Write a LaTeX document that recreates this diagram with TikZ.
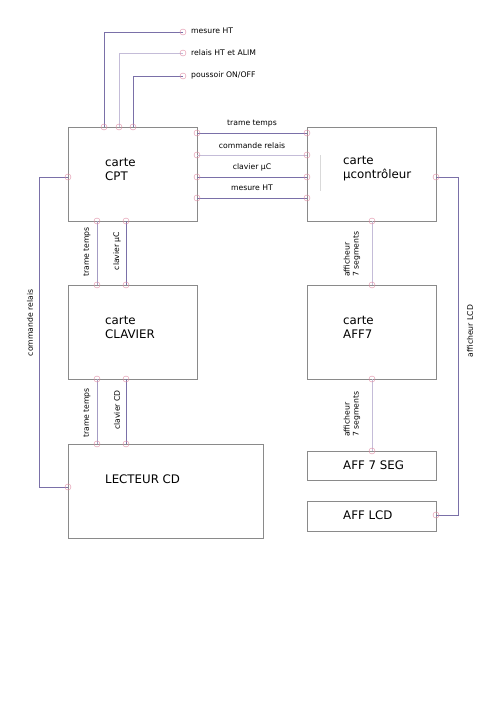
\documentclass[tikz,border=0pt]{standalone}
\usepackage{fontspec}
\setmainfont{DejaVu Sans}
\begin{document}
\begin{tikzpicture}[x=1pt,y=-1pt,
  box/.style={draw=boxgray,line width=0.6pt,anchor=north west,inner sep=0pt},
  big/.style={font=\fontsize{11.8}{14}\selectfont,align=left,inner sep=0pt},
  small/.style={font=\fontsize{7.7}{9}\selectfont,inner sep=0pt},
  port/.style={draw=portpink,line width=0.4pt},
  wdark/.style={draw=wiredark,line width=0.7pt},
  wmid/.style={draw=wiremid,line width=0.7pt},
  wlight/.style={draw=wirelight,line width=0.7pt}]
\definecolor{boxgray}{HTML}{8A8A8A}
\definecolor{portpink}{HTML}{E08CA4}
\definecolor{wiredark}{HTML}{7A70A8}
\definecolor{wiremid}{HTML}{A49CC4}
\definecolor{wirelight}{HTML}{C4BCD8}
\useasboundingbox[fill=white] (0,0) rectangle (500,709);
% boxes
\node[box,minimum width=129pt,minimum height=94pt] (cpt) at (68,127) {};
\node[box,minimum width=129pt,minimum height=94pt] (uc) at (307,127) {};
\node[box,minimum width=129pt,minimum height=94pt] (clav) at (68,285) {};
\node[box,minimum width=129pt,minimum height=94pt] (aff7) at (307,285) {};
\node[box,minimum width=195pt,minimum height=94pt] (lect) at (68,444) {};
\node[box,minimum width=129pt,minimum height=29pt] (seg) at (307,451) {};
\node[box,minimum width=129pt,minimum height=30pt] (lcd) at (307,501) {};
% box labels
\node[big,anchor=west] (tcpt) at (105,169) {carte\\CPT};
\node[big,anchor=west] (tuc) at (343,169) {carte\\µcontrôleur};
\node[big,anchor=west] (tclav) at (105,327) {carte\\CLAVIER};
\node[big,anchor=west] (taff7) at (343,327) {carte\\AFF7};
\node[big,anchor=west] (tlect) at (105,479) {LECTEUR CD};
\node[big,anchor=west] (tseg) at (343,465) {AFF 7 SEG};
\node[big,anchor=west] (tlcd) at (343,515) {AFF LCD};
% ports
\coordinate (p1) at (104,127); \coordinate (q1) at (183,32);
\coordinate (p2) at (119,127); \coordinate (q2) at (183,53);
\coordinate (p3) at (133,127); \coordinate (q3) at (183,76);
\foreach \y/\n in {133/a,155/b,177/c,198/d}{
  \coordinate (l\n) at (197,\y); \coordinate (r\n) at (307,\y);}
\coordinate (cl) at (68,177); \coordinate (ll) at (68,487);
\coordinate (ur) at (436,177); \coordinate (lr) at (436,515);
\coordinate (v1t) at (97,221); \coordinate (v1b) at (97,285);
\coordinate (v2t) at (126,221); \coordinate (v2b) at (126,285);
\coordinate (v3t) at (97,379); \coordinate (v3b) at (97,444);
\coordinate (v4t) at (126,379); \coordinate (v4b) at (126,444);
\coordinate (v5t) at (372,221); \coordinate (v5b) at (372,285);
\coordinate (v6t) at (372,379); \coordinate (v6b) at (372,451);
% top wires
\draw[wdark] (p1) |- (q1);
\draw[wlight] (p2) |- (q2);
\draw[wdark] (p3) |- (q3);
\node[small,anchor=west] (m1) at (191,31) {mesure HT};
\node[small,anchor=west] (m2) at (191,53) {relais HT et ALIM};
\node[small,anchor=west] (m3) at (191,75) {poussoir ON/OFF};
% horizontal wires
\draw[wdark] (la) -- (ra);
\draw[wlight] (lb) -- (rb);
\draw[wdark] (lc) -- (rc);
\draw[wdark] (ld) -- (rd);
\node[small] (h1) at (252,124) {trame temps};
\node[small] (h2) at (252,146) {commande relais};
\node[small] (h3) at (252,167) {clavier µC};
\node[small] (h4) at (252,188) {mesure HT};
% side wires
\draw[wdark] (cl) -- (39,177) -- (39,487) -- (ll);
\draw[wdark] (ur) -- (458,177) -- (458,515) -- (lr);
\node[small,rotate=90] (s1) at (30,323) {commande relais};
\node[small,rotate=90] (s2) at (470,331) {afficheur LCD};
% vertical wires
\draw[wmid] (v1t) -- (v1b);
\draw[wdark] (v2t) -- (v2b);
\draw[wmid] (v3t) -- (v3b);
\draw[wdark] (v4t) -- (v4b);
\draw[wlight] (v5t) -- (v5b);
\draw[wlight] (v6t) -- (v6b);
\node[small,rotate=90] (c1) at (87,252) {trame temps};
\node[small,rotate=90] (c2) at (117,251) {clavier µC};
\node[small,rotate=90] (c3) at (87,413) {trame temps};
\node[small,rotate=90] (c4) at (117,410) {clavier CD};
\node[small,rotate=90,align=left,anchor=west] (c5) at (352,277) {afficheur\\7 segments};
\node[small,rotate=90,align=left,anchor=west] (c6) at (352,437) {afficheur\\7 segments};
% artifact line
\draw[draw=black!15,line width=0.5pt] (320,155) -- (320,191);
% port circles
\foreach \c in {p1,p2,p3,q1,q2,q3,la,lb,lc,ld,ra,rb,rc,rd,cl,ll,ur,lr,v1t,v1b,v2t,v2b,v3t,v3b,v4t,v4b,v5t,v5b,v6t,v6b}
  \draw[port] (\c) circle (3pt);
\end{tikzpicture}
\end{document}
